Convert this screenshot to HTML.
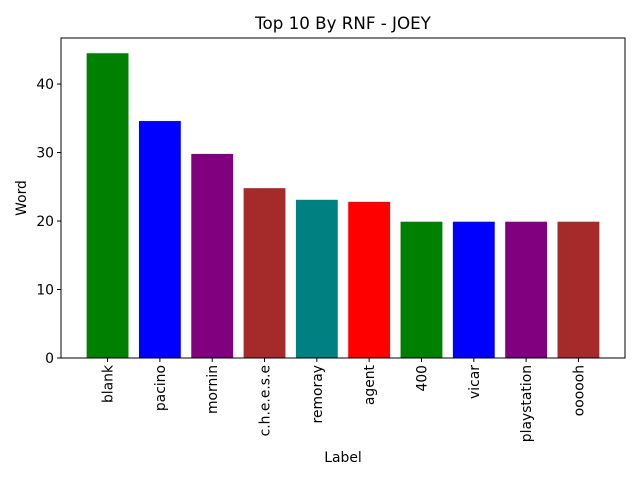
<!DOCTYPE html>
<html><head><meta charset="utf-8"><style>
body{margin:0;background:#fff;}
svg text{font-family:"DejaVu Sans","Liberation Sans",sans-serif;fill:#000;}
</style></head><body>
<svg id="chart" width="640" height="480">
<rect width="640" height="480" fill="#fff"/>
<text x="343" y="29" font-size="16.7" text-anchor="middle">Top 10 By RNF - JOEY</text>
<text x="343" y="462" font-size="13.9" text-anchor="middle">Label</text>
<text transform="translate(26,198) rotate(-90)" font-size="13.9" text-anchor="middle">Word</text>
<g id="bars"></g><g id="xt"></g><g id="yt"></g>
<rect x="61" y="38" width="564" height="320" fill="none" stroke="#000" stroke-width="1"/>
</svg>
<script>
const categories=["blank","pacino","mornin","c.h.e.e.s.e","remoray","agent","400","vicar","playstation","oooooh"];
const values=[44.5,34.6,29.8,24.8,23.1,22.8,19.9,19.9,19.9,19.9];
const colors=["green","blue","purple","brown","teal","red","green","blue","purple","brown"];
const yTicks=[0,10,20,30,40];
const L=61,R=625,T=38,B=358;
const yMax=Math.max(...values)*1.05;
const xmin=-0.4-0.49, xmax=categories.length-1+0.4+0.49;
const xs=v=>L+(v-xmin)/(xmax-xmin)*(R-L);
const ys=v=>B-v/yMax*(B-T);
const ns="http://www.w3.org/2000/svg";
const bars=document.getElementById('bars'),xt=document.getElementById('xt'),yt=document.getElementById('yt');
categories.forEach((c,i)=>{
  const r=document.createElementNS(ns,'rect');
  r.setAttribute('x',xs(i-0.4));r.setAttribute('width',xs(i+0.4)-xs(i-0.4));
  r.setAttribute('y',ys(values[i]));r.setAttribute('height',B-ys(values[i]));
  r.setAttribute('fill',colors[i]);
  
  
  bars.appendChild(r);
  const l=document.createElementNS(ns,'line');
  l.setAttribute('x1',xs(i));l.setAttribute('x2',xs(i));l.setAttribute('y1',B);l.setAttribute('y2',B+4);l.setAttribute('stroke','#000');
  
  
  xt.appendChild(l);
  const t=document.createElementNS(ns,'text');
  t.setAttribute('transform',`translate(${xs(i)+5},${B+7}) rotate(-90)`);
  t.setAttribute('font-size','13.9');t.setAttribute('text-anchor','end');
  t.textContent=c;
  
  
  xt.appendChild(t);
});
yTicks.forEach(v=>{
  const l=document.createElementNS(ns,'line');
  l.setAttribute('x1',L-4);l.setAttribute('x2',L);l.setAttribute('y1',ys(v));l.setAttribute('y2',ys(v));l.setAttribute('stroke','#000');
  
  
  yt.appendChild(l);
  const t=document.createElementNS(ns,'text');
  t.setAttribute('x',L-7);t.setAttribute('y',ys(v)+5);t.setAttribute('font-size','13.9');t.setAttribute('text-anchor','end');
  t.textContent=v;
  
  
  yt.appendChild(t);
});
</script>
</body></html>
